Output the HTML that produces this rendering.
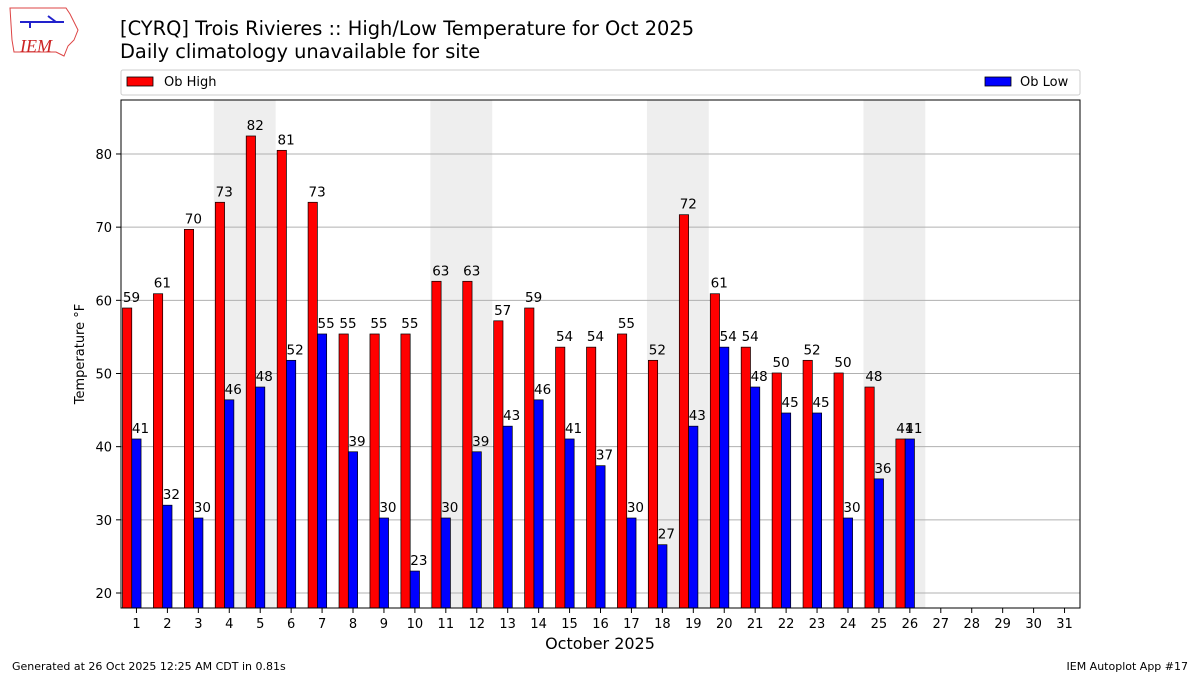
<!DOCTYPE html>
<html><head><meta charset="utf-8"><style>
body{margin:0;background:#fff;font-family:"DejaVu Sans","Liberation Sans",sans-serif;}
</style></head><body>
<svg id="s" width="1200" height="675" xmlns="http://www.w3.org/2000/svg" font-family="DejaVu Sans, Liberation Sans, sans-serif">
<rect width="1200" height="675" fill="#fff"/>
<g>
<path d="M10 8 L66 8 L70 14 L74 22 L78 30 L74 40 L68 46 L64 56 L56 52 L14 52 L12 40 Z" fill="none" stroke="#d44" stroke-width="1"/>
<text x="20" y="52" font-family="Liberation Serif, serif" font-style="italic" font-size="18" fill="#c22">IEM</text>
<path d="M20 22 H64 M48 16 l8 6 M30 22 v6" stroke="#22c" stroke-width="2" fill="none"/>
</g>
<text x="120" y="35" font-size="19.4">[CYRQ] Trois Rivieres :: High/Low Temperature for Oct 2025</text>
<text x="120" y="58" font-size="19.4">Daily climatology unavailable for site</text>
<rect x="121" y="70" width="959" height="25" fill="#fff" stroke="#ccc" rx="2"/>
<rect x="127" y="77" width="26" height="9" fill="#f00" stroke="#000" stroke-width="0.8"/>
<text x="164" y="86" font-size="13">Ob High</text>
<rect x="985" y="77" width="26" height="9" fill="#00f" stroke="#000" stroke-width="0.8"/>
<text x="1020" y="86" font-size="13">Ob Low</text>
<g id="plot"></g>
<rect x="121" y="100" width="959" height="508" fill="none" stroke="#000" stroke-width="1"/>
<text x="84" y="354" font-size="13" text-anchor="middle" transform="rotate(-90 84 354)">Temperature °F</text>
<text x="600" y="649" font-size="16" text-anchor="middle">October 2025</text>
<text x="12" y="670" font-size="11">Generated at 26 Oct 2025 12:25 AM CDT in 0.81s</text>
<text x="1188" y="670" font-size="11" text-anchor="end">IEM Autoplot App #17</text>
</svg>
<script>
var hi=[58.95,60.9,69.7,73.4,82.46,80.5,73.4,55.4,55.4,55.4,62.6,62.6,57.2,58.95,53.6,53.6,55.4,51.8,71.7,60.9,53.6,50.07,51.8,50.07,48.15,41.05];
var lo=[41.05,32,30.25,46.4,48.15,51.8,55.4,39.3,30.25,23,30.25,39.3,42.8,46.4,41.05,37.4,30.25,26.6,42.8,53.6,48.15,44.6,44.6,30.25,35.6,41.05];
function X(d){return 121+(d-0.5)*959/31;}
function Y(v){return 593-(v-20)*7.317;}
var h='';
[4,11,18,25].forEach(function(d){h+='<rect x="'+X(d-0.5)+'" y="100" width="'+(2*959/31)+'" height="508" fill="#eee"/>';});
for(var v=20;v<=80;v+=10){var y=Y(v);h+='<line x1="121" x2="1080" y1="'+y+'" y2="'+y+'" stroke="#b0b0b0" stroke-width="1"/><line x1="116" x2="121" y1="'+y+'" y2="'+y+'" stroke="#000"/><text x="112" y="'+(y+5)+'" font-size="13" text-anchor="end">'+v+'</text>';}
for(var d=1;d<=31;d++){var x=X(d);h+='<line x1="'+x+'" x2="'+x+'" y1="608" y2="613" stroke="#000"/><text x="'+x+'" y="628" font-size="13" text-anchor="middle">'+d+'</text>';}
for(var i=0;i<hi.length;i++){var c=X(i+1);
h+='<rect x="'+(c-14)+'" y="'+Y(hi[i])+'" width="9.3" height="'+(608-Y(hi[i]))+'" fill="#f00" stroke="#000" stroke-width="0.7"/>';
h+='<rect x="'+(c-4.7)+'" y="'+Y(lo[i])+'" width="9.3" height="'+(608-Y(lo[i]))+'" fill="#00f" stroke="#000" stroke-width="0.7"/>';
h+='<text x="'+(c-5)+'" y="'+(Y(hi[i])-6)+'" font-size="13.5" text-anchor="middle">'+Math.round(hi[i])+'</text>';
h+='<text x="'+(c+4)+'" y="'+(Y(lo[i])-6)+'" font-size="13.5" text-anchor="middle">'+Math.round(lo[i])+'</text>';}
document.getElementById('plot').innerHTML=h;
</script>
</body></html>
